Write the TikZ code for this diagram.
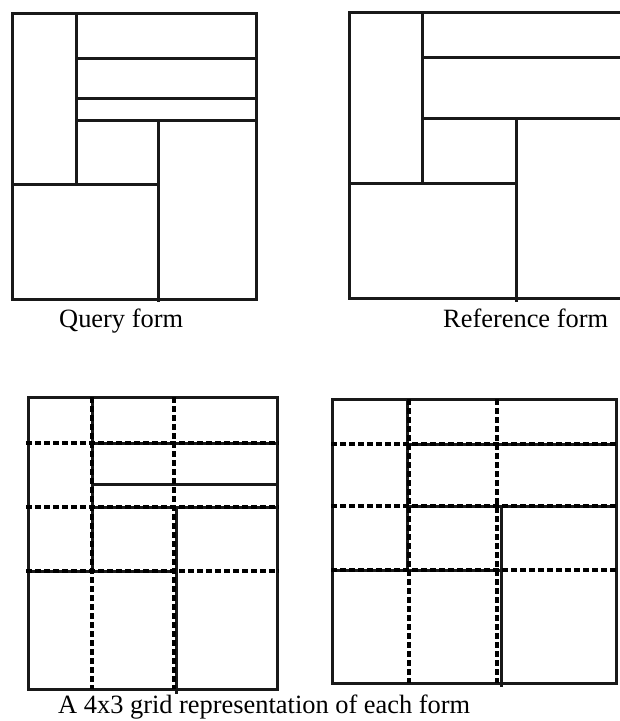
\documentclass[tikz,border=0pt]{standalone}
\usepackage{fontspec}
\setmainfont{Liberation Serif}
\tikzset{
  formline/.style={line width=3pt, line cap=rect, draw=black!90},
  gridline/.style={line width=3.2pt, dash pattern=on 5.5pt off 3.5pt, draw=black},
  caption/.style={anchor=base west, inner sep=0pt, font=\fontsize{26.4}{30}\selectfont}
}
\begin{document}
\begin{tikzpicture}[x=1pt,y=-1pt]
\useasboundingbox (0,0) rectangle (620,721);
% ---- Query form (top left)
\draw[formline] (12,13) rectangle (256,299);
\draw[formline] (76,13) -- (76,184);
\draw[formline] (76,58) -- (256,58);
\draw[formline] (76,98) -- (256,98);
\draw[formline] (76,120) -- (256,120);
\draw[formline] (158,120) -- (158,300);
\draw[formline] (12,184) -- (158,184);
\node[caption] (qcap) at (59,327) {Query form};
% ---- Reference form (top right, clipped at right)
\draw[formline] (621,12) -- (349,12) -- (349,298) -- (621,298);
\draw[formline] (422,12) -- (422,183);
\draw[formline] (422,57) -- (621,57);
\draw[formline] (422,118) -- (621,118);
\draw[formline] (516,118) -- (516,300);
\draw[formline] (349,183) -- (516,183);
\node[caption] (rcap) at (443,327) {Reference form};
% ---- Grid of query form (bottom left)
\draw[formline] (28,397) rectangle (277,689);
\draw[formline] (92,397) -- (92,571);
\draw[formline] (92,443) -- (277,443);
\draw[formline] (92,484) -- (277,484);
\draw[formline] (92,507) -- (277,507);
\draw[formline] (176,507) -- (176,692);
\draw[formline] (28,571) -- (176,571);
\draw[gridline] (92,397) -- (92,689);
\draw[gridline] (174,397) -- (174,689);
\draw[gridline] (26,443) -- (279,443);
\draw[gridline] (26,507) -- (279,507);
\draw[gridline] (26,571) -- (279,571);
% ---- Grid of reference form (bottom right)
\draw[formline] (332,399) rectangle (616,683);
\draw[formline] (407,399) -- (407,570);
\draw[formline] (407,444) -- (616,444);
\draw[formline] (407,506) -- (616,506);
\draw[formline] (501,506) -- (501,685);
\draw[formline] (332,570) -- (501,570);
\draw[gridline] (409,399) -- (409,683);
\draw[gridline] (497,399) -- (497,683);
\draw[gridline] (331,444) -- (618,444);
\draw[gridline] (331,506) -- (618,506);
\draw[gridline] (331,570) -- (618,570);
\node[caption] (gcap) at (58,713) {A 4x3 grid representation of each form};
\end{tikzpicture}
\end{document}
